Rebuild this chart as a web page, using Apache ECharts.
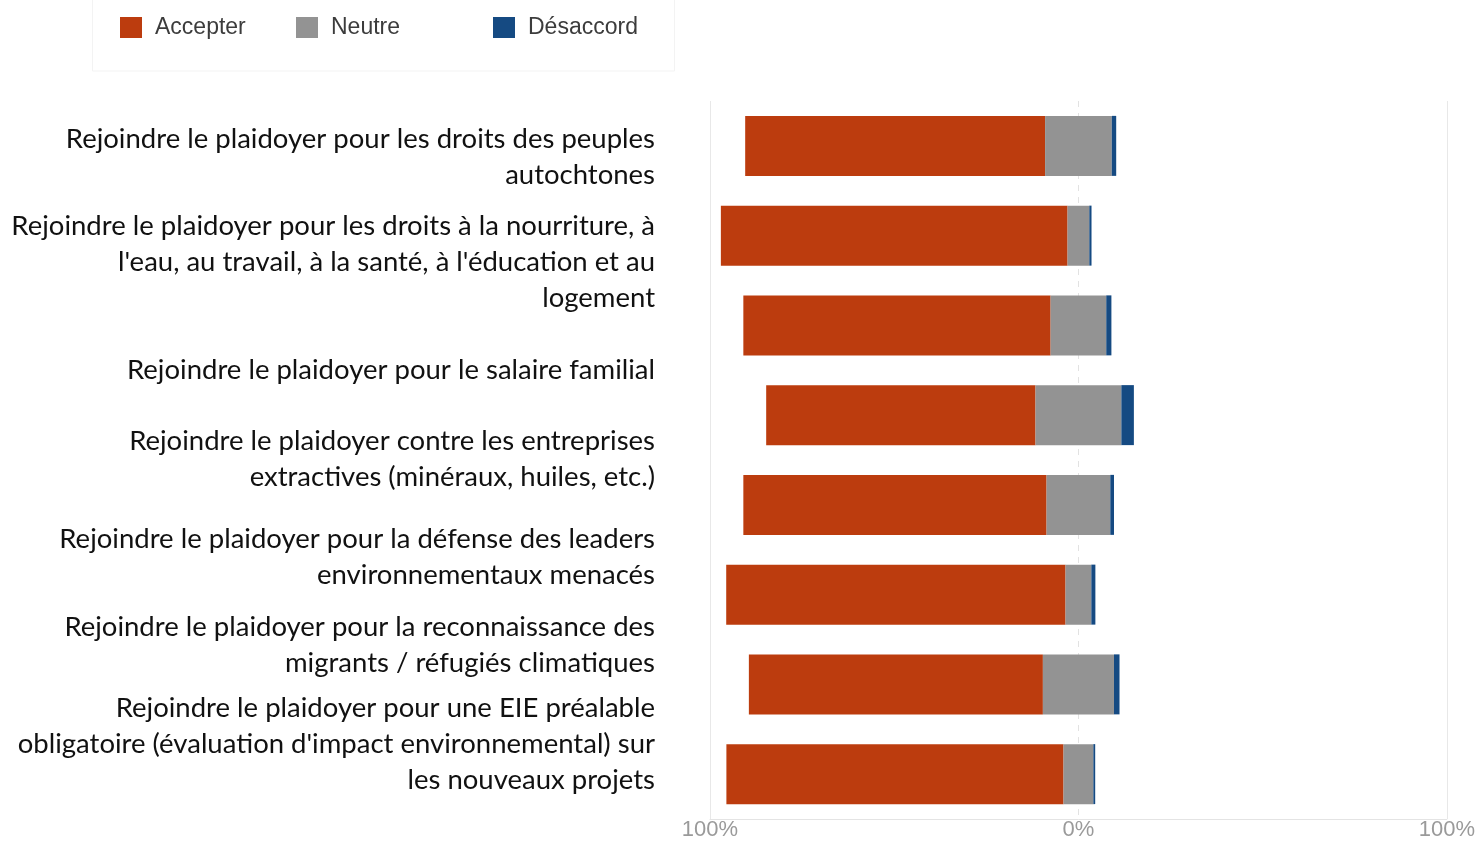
<!DOCTYPE html>
<html>
<head>
<meta charset="utf-8">
<script src="https://cdn.jsdelivr.net/npm/echarts@6/dist/echarts.min.js"></script>
<style>
html,body{margin:0;padding:0;background:#fff;}
#chart{width:1478px;height:841px;}
</style>
</head>
<body>
<div id="chart"></div>
<script>
// ---- data ----
var rows = ['1', '2', '3', '4', '5', '6', '7', '8'];
var accepter = [81.4, 94.1, 83.4, 73.1, 82.3, 92.1, 79.8, 91.5];
var neutre = [18.1, 5.9, 15.1, 23.3, 17.3, 7.0, 19.3, 8.1];
var desaccord = [1.2, 0.6, 1.4, 3.4, 1.0, 1.1, 1.5, 0.5];
var seriesNames = ['Accepter', 'Neutre', 'Désaccord'];
var labelTexts = [
  'Rejoindre le plaidoyer pour les droits des peuples\nautochtones',
  'Rejoindre le plaidoyer pour les droits à la nourriture, à\nl\'eau, au travail, à la santé, à l\'éducation et au\nlogement',
  'Rejoindre le plaidoyer pour le salaire familial',
  'Rejoindre le plaidoyer contre les entreprises\nextractives (minéraux, huiles, etc.)',
  'Rejoindre le plaidoyer pour la défense des leaders\nenvironnementaux menacés',
  'Rejoindre le plaidoyer pour la reconnaissance des\nmigrants / réfugiés climatiques',
  'Rejoindre le plaidoyer pour une EIE préalable\nobligatoire (évaluation d\'impact environnemental) sur\nles nouveaux projets'
];
var xTicks = [-100, 0, 100];

// ---- layout (not data) ----
var labelCenterY = [157, 262.5, 370, 459.5, 557, 645, 744.5];
var colors = ['#BC3C0E', '#939393', '#154A82'];

var base = accepter.map(function (a, i) { return -(a + neutre[i] / 2); });

var chart = echarts.init(document.getElementById('chart'), null, {renderer: 'canvas'});

var legendBase = {
  orient: 'horizontal', top: 16, padding: 0,
  itemWidth: 22, itemHeight: 21, icon: 'rect',
  textStyle: {fontFamily: 'Liberation Sans', fontSize: 23, color: '#3c3c3c', padding: [0, 0, 0, 8]}
};
var legendLefts = [120, 296, 493];

var graphics = labelTexts.map(function (t, i) {
  return {
    type: 'text', x: 655, y: labelCenterY[i],
    style: {
      text: t, align: 'right', verticalAlign: 'middle',
      font: '27.5px Lato', lineHeight: 36, fill: '#111'
    },
    silent: true
  };
});
graphics.push({
  type: 'rect', shape: {x: 92.5, y: -1, width: 582, height: 72},
  style: {fill: 'none', stroke: '#f3f3f3', lineWidth: 1}, silent: true, z: -1
});

var option = {
  animation: false,
  backgroundColor: '#fff',
  legend: legendLefts.map(function (l, i) {
    return Object.assign({}, legendBase, {left: l, data: [seriesNames[i]]});
  }),
  grid: {left: 710, right: 31, top: 101, bottom: 16, containLabel: false},
  xAxis: [{
    type: 'value', min: -100, max: 100, interval: 100,
    axisLine: {show: true, onZero: false, lineStyle: {color: '#e4e4e4', width: 1}},
    axisTick: {show: false},
    splitLine: {show: false},
    axisLabel: {
      margin: 0, fontFamily: 'Liberation Sans', fontSize: 22, color: '#9a9a9a',
      formatter: function (v) { return xTicks.indexOf(v) >= 0 ? Math.abs(v) + '%' : ''; }
    }
  }, {
    type: 'value', min: -100, max: 100, interval: 200,
    axisLine: {show: false}, axisTick: {show: false}, axisLabel: {show: false},
    splitLine: {show: true, lineStyle: {color: '#e8e8e8', width: 1}}
  }],
  yAxis: {
    type: 'category', data: rows, inverse: true,
    axisLine: {show: false}, axisTick: {show: false}, axisLabel: {show: false},
    splitLine: {show: false}
  },
  graphic: graphics,
  series: [{
    name: 'base', type: 'bar', stack: 's', stackStrategy: 'all',
    data: base, barWidth: 60, silent: true,
    itemStyle: {color: 'rgba(0,0,0,0)'},
    markLine: {
      silent: true, symbol: 'none', label: {show: false},
      lineStyle: {color: '#e2e2e2', type: [6, 6], width: 1},
      data: [{xAxis: 0}], z: 0
    },
    z: 1
  }, {
    name: seriesNames[0], type: 'bar', stack: 's', stackStrategy: 'all',
    data: accepter, barWidth: 60, itemStyle: {color: colors[0]}, z: 2
  }, {
    name: seriesNames[1], type: 'bar', stack: 's', stackStrategy: 'all',
    data: neutre, barWidth: 60, itemStyle: {color: colors[1]}, z: 2
  }, {
    name: seriesNames[2], type: 'bar', stack: 's', stackStrategy: 'all',
    data: desaccord, barWidth: 60, itemStyle: {color: colors[2]}, z: 2
  }]
};
chart.setOption(option);
</script>
</body>
</html>
